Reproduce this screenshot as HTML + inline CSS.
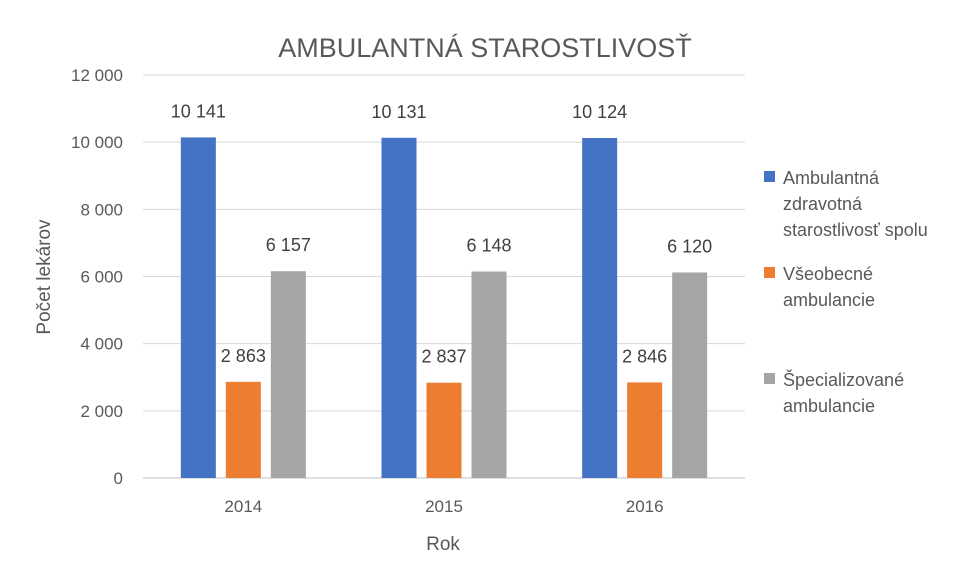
<!DOCTYPE html>
<html><head><meta charset="utf-8"><style>
body{margin:0;background:#fff;}
svg{font-family:"Liberation Sans",sans-serif;}
</style></head><body>
<svg id="c" width="969" height="560">
<text x="485" y="57" text-anchor="middle" font-size="27" fill="#595959">AMBULANTNÁ STAROSTLIVOSŤ</text>
<text transform="translate(50,277) rotate(-90)" text-anchor="middle" font-size="19" fill="#595959">Počet lekárov</text>
<text x="443" y="550" text-anchor="middle" font-size="19" fill="#595959">Rok</text>
<g id="grid"></g><g id="bars"></g><g id="legend"></g>
</svg>
<script>
const categories=["2014","2015","2016"];
const seriesNames=["Ambulantná zdravotná starostlivosť spolu","Všeobecné ambulancie","Špecializované ambulancie"];
const total=[10141,10131,10124];
const general=[2863,2837,2846];
const special=[6157,6148,6120];
const yTicks=[0,2000,4000,6000,8000,10000,12000];
const colors=["#4472C4","#ED7D31","#A5A5A5"];
const ns="http://www.w3.org/2000/svg";
const X0=143,X1=745,Y0=478,Y1=75,YMAX=12000;
const y=v=>Y0-(Y0-Y1)*v/YMAX;
const bw=(X1-X0)/categories.length;
const xc=i=>X0+bw*(i+0.5);
const fmt=v=>String(v).replace(/\B(?=(\d{3})+(?!\d))/g," ");
function mk(t,a,p){const e=document.createElementNS(ns,t);for(const k in a)e.setAttribute(k,a[k]);p.appendChild(e);return e;}
const g=document.getElementById("grid");
yTicks.forEach(t=>{
 const l=mk("line",{x1:X0,x2:X1,y1:y(t),y2:y(t),stroke:t===0?"#BFBFBF":"#D9D9D9","stroke-width":1},g);
 
 
 const tx=mk("text",{x:123,y:y(t)+6,"text-anchor":"end","font-size":17,fill:"#595959"},g);
 tx.textContent=fmt(t);
 
 
});
categories.forEach((c,i)=>{
 const tx=mk("text",{x:xc(i),y:512,"text-anchor":"middle","font-size":17,fill:"#595959"},g);
 tx.textContent=c;
 
 
});
const b=document.getElementById("bars");
const series=[total,general,special];
const W=35,GAP=10;
series.forEach((s,si)=>{
 s.forEach((v,i)=>{
  const x=xc(i)+(si-1)*(W+GAP)-W/2;
  const r=mk("rect",{x:x,y:y(v),width:W,height:Y0-y(v),fill:colors[si]},b);
  
  
  const t=mk("text",{x:x+W/2,y:y(v)-20,"text-anchor":"middle","font-size":18,fill:"#404040"},b);
  t.textContent=fmt(v);
  
  
 });
});
const lg=document.getElementById("legend");
const legLines=[["Ambulantná","zdravotná","starostlivosť spolu"],["Všeobecné","ambulancie"],["Špecializované","ambulancie"]];
const legY=[178,274,380];
legLines.forEach((lines,i)=>{
 const r=mk("rect",{x:764,y:legY[i]-7,width:11,height:11,fill:colors[i]},lg);
 
 
 lines.forEach((ln,j)=>{
  const t=mk("text",{x:783,y:legY[i]+6+j*26,"font-size":18,fill:"#595959"},lg);
  t.textContent=ln;
  
  
 });
});
</script>
</body></html>
